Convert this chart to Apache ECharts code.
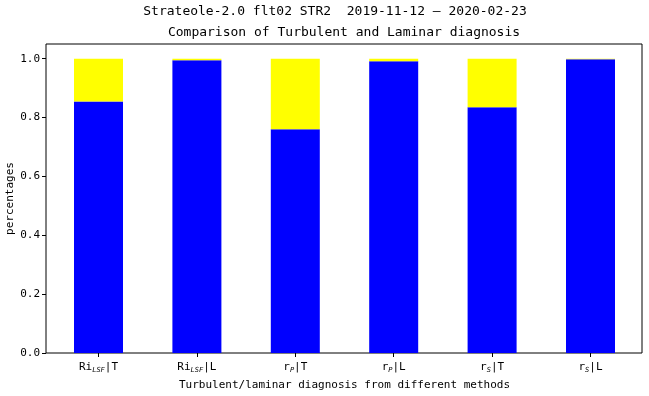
<!DOCTYPE html>
<html>
<head>
<meta charset="utf-8">
<script src="https://cdn.jsdelivr.net/npm/echarts@6/dist/echarts.min.js"></script>
<style>
  html, body { margin: 0; padding: 0; background: #fff; }
  #chart { width: 649px; height: 396px; }
</style>
</head>
<body>
<div id="chart"></div>
<script>
// labels: [main, subscript, suffix]
const categories = [
  ['Ri', 'LSF', '|T'],
  ['Ri', 'LSF', '|L'],
  ['r', 'P', '|T'],
  ['r', 'P', '|L'],
  ['r', 'S', '|T'],
  ['r', 'S', '|L']
];
const turbulentPart = [0.855, 0.995, 0.760, 0.991, 0.835, 0.998];
const laminarPart = [0.145, 0.005, 0.240, 0.009, 0.165, 0.002];
const yTicks = [0, 0.2, 0.4, 0.6, 0.8, 1.0];

const mono = 'DejaVu Sans Mono';

const chart = echarts.init(document.getElementById('chart'), null, { renderer: 'canvas' });

const option = {
  animation: false,
  backgroundColor: '#fff',
  textStyle: { fontFamily: mono, color: '#000' },
  graphic: [
    {
      type: 'text', x: 335, y: 12,
      style: { text: 'Strateole-2.0 flt02 STR2  2019-11-12 \u2013 2020-02-23', font: '13px "DejaVu Sans Mono"', fill: '#000', textAlign: 'center', textVerticalAlign: 'middle' }
    },
    {
      type: 'text', x: 344, y: 33,
      style: { text: 'Comparison of Turbulent and Laminar diagnosis', font: '13px "DejaVu Sans Mono"', fill: '#000', textAlign: 'center', textVerticalAlign: 'middle' }
    }
  ],
  grid: [
    // frame + y axis
    { left: 46, right: 7, top: 44, bottom: 43, containLabel: false, outerBoundsMode: 'none', show: true, borderColor: '#000', borderWidth: 1, backgroundColor: 'transparent' },
    // bars (matplotlib margins)
    { left: 49.3, right: 9.3, top: 44, bottom: 43, containLabel: false, outerBoundsMode: 'none' }
  ],
  xAxis: [
    { gridIndex: 0, type: 'value', show: false, min: 0, max: 1 },
    {
      gridIndex: 1,
      type: 'category',
      data: categories.map((c, i) => i),
      axisLine: { show: false },
      axisTick: { show: true, alignWithLabel: true, interval: 0, length: 4, lineStyle: { color: '#000' } },
      axisLabel: {
        margin: 7,
        interval: 0,
        hideOverlap: false,
        formatter: (v) => {
          const c = categories[+v];
          return '{a|' + c[0] + '}{s|' + c[1] + '}{a|' + c[2] + '}';
        },
        rich: {
          a: { fontFamily: mono, fontSize: 11, color: '#000', lineHeight: 14 },
          s: { fontFamily: mono, fontSize: 7, fontStyle: 'italic', color: '#000', lineHeight: 14, verticalAlign: 'bottom', padding: [3, 0, 0, 0] }
        }
      },
      name: 'Turbulent/laminar diagnosis from different methods',
      nameLocation: 'middle',
      nameGap: 27,
      nameMoveOverlap: false,
      nameTextStyle: { fontFamily: mono, fontSize: 11, color: '#000' }
    }
  ],
  yAxis: [
    {
      gridIndex: 0,
      type: 'value',
      min: 0,
      max: 1.05,
      axisLine: { show: false },
      splitLine: { show: false },
      axisTick: { show: true, length: 4, lineStyle: { color: '#000' }, customValues: yTicks },
      axisLabel: {
        fontFamily: mono, fontSize: 11, color: '#000', margin: 6,
        customValues: yTicks,
        formatter: (v) => v.toFixed(1)
      },
      name: 'percentages',
      nameLocation: 'middle',
      nameRotate: 90,
      nameGap: 30,
      nameMoveOverlap: false,
      nameTextStyle: { fontFamily: mono, fontSize: 11, color: '#000' }
    },
    { gridIndex: 1, type: 'value', min: 0, max: 1.05, show: false }
  ],
  series: [
    {
      name: 'turbulent',
      type: 'bar',
      xAxisIndex: 1,
      yAxisIndex: 1,
      stack: 'total',
      barWidth: 49,
      itemStyle: { color: '#0000ff' },
      data: turbulentPart
    },
    {
      name: 'laminar',
      type: 'bar',
      xAxisIndex: 1,
      yAxisIndex: 1,
      stack: 'total',
      barWidth: 49,
      itemStyle: { color: '#ffff00' },
      data: laminarPart
    }
  ]
};

chart.setOption(option);
</script>
</body>
</html>
